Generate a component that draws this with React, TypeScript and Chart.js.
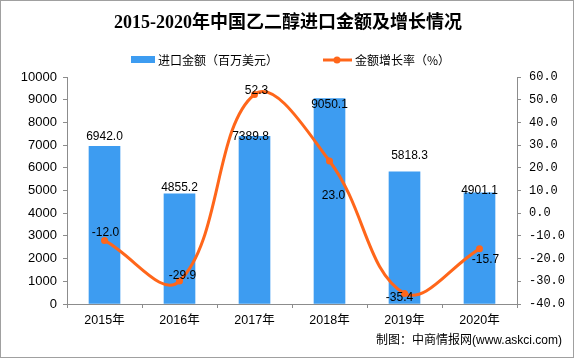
import React, { useEffect, useRef } from "react";
import { Chart, registerables } from "chart.js";

Chart.register(...registerables);

const categories = ["2015年", "2016年", "2017年", "2018年", "2019年", "2020年"];
const importValues = [6942.0, 4855.2, 7389.8, 9050.1, 5818.3, 4901.1];
const growthRates = [-12.0, -29.9, 52.3, 23.0, -35.4, -15.7];
const leftTicksMax = 10000;
const rightTicksMin = -40;
const rightTicksMax = 60;

const titleText = "2015-2020年中国乙二醇进口金额及增长情况";
const barLegend = "进口金额（百万美元）";
const lineLegend = "金额增长率（%）";
const sourceText = "制图：中商情报网(www.askci.com)";

// label placement nudges (dx, dy) in pixels, relative to the mark
const barLabelNudge = [[0, -10], [0, -6], [-4, 0], [0, 6], [5, -16], [0, -2]];
const lineLabelNudge = [[1, -8], [3, -5], [2, -4], [4, 35], [-5, 4], [6, 11]];

const BLUE = "#3d9cf1";
const ORANGE = "#ff661a";
const AXIS = "#8c8c8c";
const CJK = "'Noto Sans CJK SC'";

export default function App() {
  const ref = useRef<HTMLCanvasElement | null>(null);

  useEffect(() => {
    if (!ref.current) return;
    const decor = {
      id: "decor",
      beforeDraw(chart: any) {
        const ctx = chart.ctx;
        ctx.save();
        ctx.fillStyle = "#fff";
        ctx.fillRect(0, 0, chart.width, chart.height);
        ctx.restore();
      },
      afterDraw(chart: any) {
        const ctx = chart.ctx;
        ctx.save();
        // frame
        ctx.strokeStyle = "#a0a0a0";
        ctx.lineWidth = 1;
        ctx.strokeRect(0.5, 0.5, 573, 357);
        // title
        ctx.fillStyle = "#000";
        ctx.textAlign = "center";
        ctx.textBaseline = "middle";
        ctx.font = `bold 18px 'Liberation Serif', ${CJK}`;
        ctx.fillText(titleText, 288, 23);
        // legend
        ctx.textAlign = "left";
        ctx.font = `12px ${CJK}`;
        ctx.fillStyle = BLUE;
        ctx.fillRect(131, 56, 24, 7);
        ctx.fillStyle = "#000";
        ctx.fillText(barLegend, 158, 60);
        ctx.strokeStyle = ORANGE;
        ctx.lineWidth = 3;
        ctx.beginPath();
        ctx.moveTo(323, 60);
        ctx.lineTo(352, 60);
        ctx.stroke();
        ctx.fillStyle = ORANGE;
        ctx.beginPath();
        ctx.arc(337, 60, 3.5, 0, Math.PI * 2);
        ctx.fill();
        ctx.fillStyle = "#000";
        ctx.fillText(lineLegend, 355, 60);
        // source
        ctx.textAlign = "right";
        ctx.font = `12px 'Liberation Sans', ${CJK}`;
        ctx.fillText(sourceText, 562, 341);
        ctx.restore();
      },
      afterDatasetsDraw(chart: any) {
        const ctx = chart.ctx;
        ctx.save();
        ctx.fillStyle = "#000";
        ctx.textAlign = "center";
        ctx.textBaseline = "middle";
        ctx.font = "12px 'Liberation Sans'";
        chart.getDatasetMeta(0).data.forEach((el: any, i: number) => {
          const [dx, dy] = barLabelNudge[i];
          ctx.fillText(importValues[i].toFixed(1), el.x + dx, el.y + dy);
        });
        chart.getDatasetMeta(1).data.forEach((el: any, i: number) => {
          const [dx, dy] = lineLabelNudge[i];
          ctx.fillText(growthRates[i].toFixed(1), el.x + dx, el.y + dy);
        });
        ctx.restore();
      },
    };

    const chart = new Chart(ref.current, {
      type: "bar",
      data: {
        labels: categories,
        datasets: [
          {
            type: "bar",
            label: barLegend,
            data: importValues,
            backgroundColor: BLUE,
            barThickness: 31,
            yAxisID: "y",
            order: 2,
          },
          {
            type: "line",
            label: lineLegend,
            data: growthRates,
            borderColor: ORANGE,
            backgroundColor: ORANGE,
            borderWidth: 3,
            pointRadius: 3.5,
            pointBackgroundColor: ORANGE,
            pointBorderWidth: 0,
            tension: 0.4,
            clip: false as any,
            yAxisID: "y1",
            order: 1,
          } as any,
        ],
      },
      options: {
        responsive: false,
        animation: false,
        layout: { padding: { top: 77, left: 0, right: 0, bottom: 0 } },
        plugins: {
          legend: { display: false },
          title: { display: false },
          tooltip: { enabled: false },
        },
        scales: {
          x: {
            grid: {
              display: true,
              drawOnChartArea: false,
              drawTicks: true,
              tickLength: 4,
              color: AXIS,
              offset: true,
            },
            border: { display: true, color: AXIS },
            ticks: {
              color: "#000",
              padding: 5,
              font: { family: `'Liberation Sans', ${CJK}`, size: 12.5 },
            },
            afterFit: (s: any) => {
              s.height = 55;
            },
          },
          y: {
            position: "left",
            min: 0,
            max: leftTicksMax,
            ticks: {
              stepSize: 1000,
              color: "#000",
              padding: 6,
              font: { family: "'Liberation Sans'", size: 13 },
              callback: (v: any) => String(v),
            },
            grid: {
              display: true,
              drawOnChartArea: false,
              drawTicks: true,
              tickLength: 4,
              color: AXIS,
            },
            border: { display: true, color: AXIS },
            afterFit: (s: any) => {
              s.width = 67;
            },
          },
          y1: {
            position: "right",
            min: rightTicksMin,
            max: rightTicksMax,
            ticks: {
              stepSize: 10,
              color: "#000",
              padding: 8,
              font: { family: "'Liberation Mono'", size: 12 },
              callback: (v: any) => Number(v).toFixed(1),
            },
            grid: {
              display: true,
              drawOnChartArea: false,
              drawTicks: true,
              tickLength: 4,
              color: AXIS,
            },
            border: { display: true, color: AXIS },
            afterFit: (s: any) => {
              s.width = 59;
            },
          },
        },
      },
      plugins: [decor],
    });
    return () => chart.destroy();
  }, []);

  return (
    <div style={{ position: "fixed", left: 0, top: 0, width: 576, height: 359 }}>
      <canvas ref={ref} width={576} height={359} />
    </div>
  );
}
